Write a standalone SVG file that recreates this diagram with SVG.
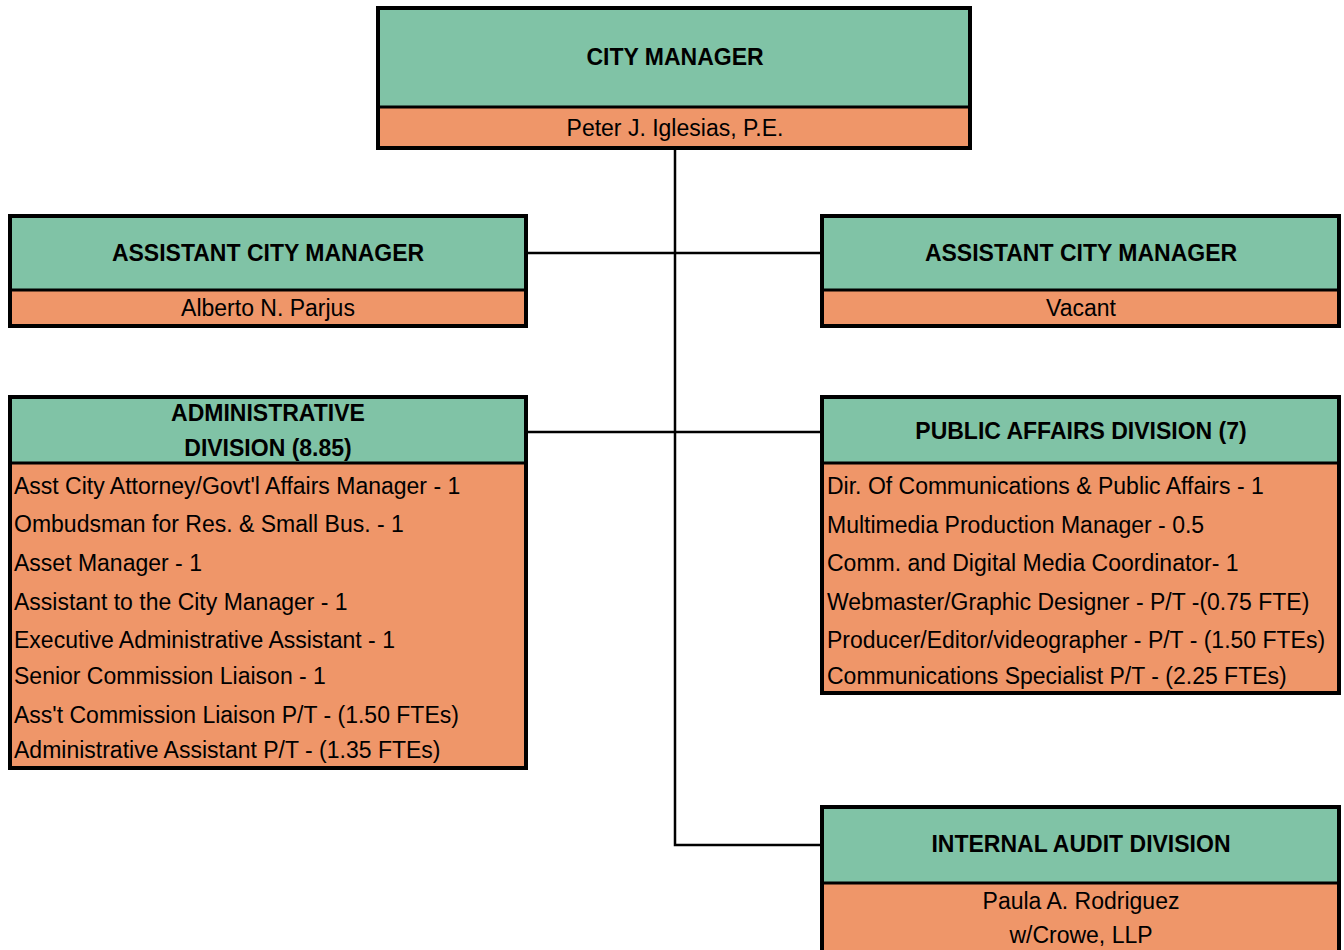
<svg xmlns="http://www.w3.org/2000/svg" width="1344" height="950" viewBox="0 0 1344 950">
<style>
.g{fill:#80C3A6}
.o{fill:#EF9669}
.b{fill:none;stroke:#000;stroke-width:4}
.d{stroke:#000;stroke-width:3}
.c{fill:none;stroke:#000;stroke-width:2.5}
text{font-family:"Liberation Sans",Arial,sans-serif;fill:#000}
.h{font-size:23px;font-weight:bold;text-anchor:middle}
.n{font-size:23px;text-anchor:middle}
.i{font-size:23px}
</style>
<rect width="1344" height="950" fill="#fff"/>
<g id="connectors">
<path class="c" d="M675,150 V845 H822"/>
<path class="c" d="M528,253 H822"/>
<path class="c" d="M528,432 H822"/>
</g>
<g id="city-manager">
<rect class="g" x="378" y="8" width="592" height="99"/>
<rect class="o" x="378" y="107" width="592" height="41"/>
<line class="d" x1="378" y1="107" x2="970" y2="107"/>
<rect class="b" x="378" y="8" width="592" height="140"/>
<text class="h" x="675" y="65">CITY MANAGER</text>
<text class="n" x="675" y="136">Peter J. Iglesias, P.E.</text>
</g>
<g id="acm-left">
<rect class="g" x="10" y="216" width="516" height="74"/>
<rect class="o" x="10" y="290" width="516" height="36"/>
<line class="d" x1="10" y1="290" x2="526" y2="290"/>
<rect class="b" x="10" y="216" width="516" height="110"/>
<text class="h" x="268" y="261">ASSISTANT CITY MANAGER</text>
<text class="n" x="268" y="316">Alberto N. Parjus</text>
</g>
<g id="acm-right">
<rect class="g" x="822" y="216" width="517" height="74"/>
<rect class="o" x="822" y="290" width="517" height="36"/>
<line class="d" x1="822" y1="290" x2="1339" y2="290"/>
<rect class="b" x="822" y="216" width="517" height="110"/>
<text class="h" x="1081" y="261">ASSISTANT CITY MANAGER</text>
<text class="n" x="1081" y="316">Vacant</text>
</g>
<g id="admin-division">
<rect class="g" x="10" y="397" width="516" height="66"/>
<rect class="o" x="10" y="463" width="516" height="305"/>
<line class="d" x1="10" y1="463" x2="526" y2="463"/>
<rect class="b" x="10" y="397" width="516" height="371"/>
<text class="h" x="268" y="421">ADMINISTRATIVE</text>
<text class="h" x="268" y="456">DIVISION (8.85)</text>
<text class="i" x="14" y="494">Asst City Attorney/Govt'l Affairs Manager - 1</text>
<text class="i" x="14" y="532">Ombudsman for Res. &amp; Small Bus. - 1</text>
<text class="i" x="14" y="571">Asset Manager - 1</text>
<text class="i" x="14" y="610">Assistant to the City Manager - 1</text>
<text class="i" x="14" y="648">Executive Administrative Assistant - 1</text>
<text class="i" x="14" y="684">Senior Commission Liaison - 1</text>
<text class="i" x="14" y="723">Ass't Commission Liaison P/T - (1.50 FTEs)</text>
<text class="i" x="14" y="758">Administrative Assistant P/T - (1.35 FTEs)</text>
</g>
<g id="public-affairs">
<rect class="g" x="822" y="397" width="517" height="66"/>
<rect class="o" x="822" y="463" width="517" height="230"/>
<line class="d" x1="822" y1="463" x2="1339" y2="463"/>
<rect class="b" x="822" y="397" width="517" height="296"/>
<text class="h" x="1081" y="439">PUBLIC AFFAIRS DIVISION (7)</text>
<text class="i" x="827" y="494">Dir. Of Communications &amp; Public Affairs - 1</text>
<text class="i" x="827" y="533">Multimedia Production Manager - 0.5</text>
<text class="i" x="827" y="571">Comm. and Digital Media Coordinator- 1</text>
<text class="i" x="827" y="610">Webmaster/Graphic Designer - P/T -(0.75 FTE)</text>
<text class="i" x="827" y="648">Producer/Editor/videographer - P/T - (1.50 FTEs)</text>
<text class="i" x="827" y="684">Communications Specialist P/T - (2.25 FTEs)</text>
</g>
<g id="internal-audit">
<rect class="g" x="822" y="807" width="517" height="76"/>
<rect class="o" x="822" y="883" width="517" height="70"/>
<line class="d" x1="822" y1="883" x2="1339" y2="883"/>
<rect class="b" x="822" y="807" width="517" height="150"/>
<text class="h" x="1081" y="852">INTERNAL AUDIT DIVISION</text>
<text class="n" x="1081" y="909">Paula A. Rodriguez</text>
<text class="n" x="1081" y="943">w/Crowe, LLP</text>
</g>
</svg>
